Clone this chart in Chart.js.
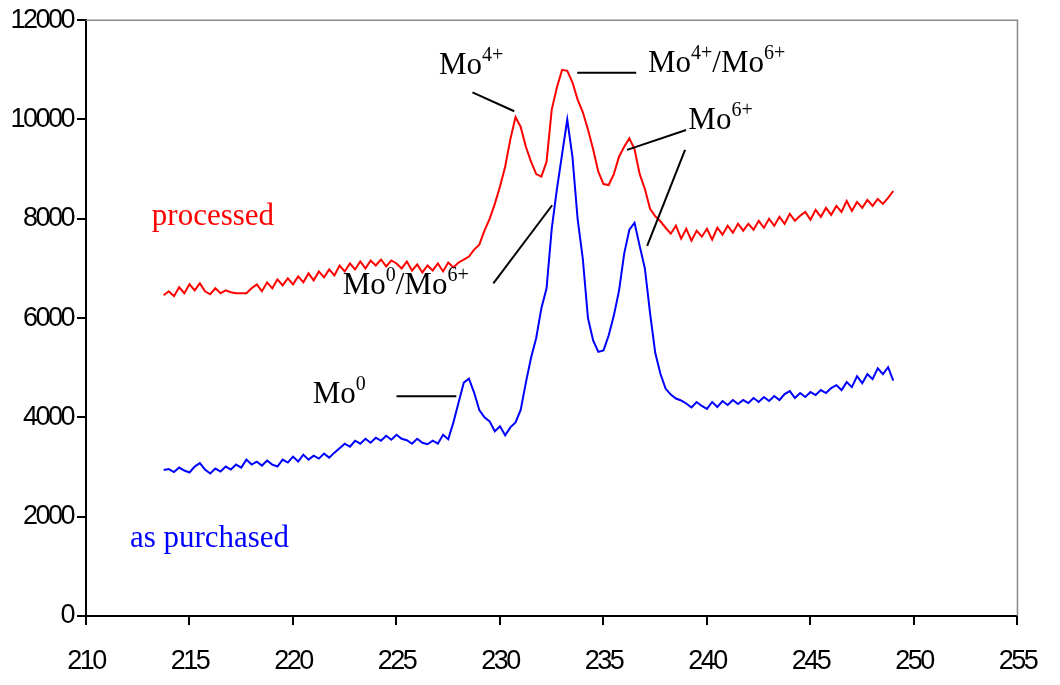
<!DOCTYPE html>
<html>
<head>
<meta charset="utf-8">
<script src="https://cdn.jsdelivr.net/npm/chart.js@4/dist/chart.umd.min.js"></script>
<style>
  html, body { margin: 0; padding: 0; background: #fff; }
  #plot { display: block; }
</style>
</head>
<body>
<canvas id="plot" width="1060" height="685"></canvas>
<script>
// binding energy (eV), one row per eV
var energy = [
    213.75,
    214, 214.25, 214.5, 214.75,
    215, 215.25, 215.5, 215.75,
    216, 216.25, 216.5, 216.75,
    217, 217.25, 217.5, 217.75,
    218, 218.25, 218.5, 218.75,
    219, 219.25, 219.5, 219.75,
    220, 220.25, 220.5, 220.75,
    221, 221.25, 221.5, 221.75,
    222, 222.25, 222.5, 222.75,
    223, 223.25, 223.5, 223.75,
    224, 224.25, 224.5, 224.75,
    225, 225.25, 225.5, 225.75,
    226, 226.25, 226.5, 226.75,
    227, 227.25, 227.5, 227.75,
    228, 228.25, 228.5, 228.75,
    229, 229.25, 229.5, 229.75,
    230, 230.25, 230.5, 230.75,
    231, 231.25, 231.5, 231.75,
    232, 232.25, 232.5, 232.75,
    233, 233.25, 233.5, 233.75,
    234, 234.25, 234.5, 234.75,
    235, 235.25, 235.5, 235.75,
    236, 236.25, 236.5, 236.75,
    237, 237.25, 237.5, 237.75,
    238, 238.25, 238.5, 238.75,
    239, 239.25, 239.5, 239.75,
    240, 240.25, 240.5, 240.75,
    241, 241.25, 241.5, 241.75,
    242, 242.25, 242.5, 242.75,
    243, 243.25, 243.5, 243.75,
    244, 244.25, 244.5, 244.75,
    245, 245.25, 245.5, 245.75,
    246, 246.25, 246.5, 246.75,
    247, 247.25, 247.5, 247.75,
    248, 248.25, 248.5, 248.75,
    249
];

// counts, processed sample (red)
var processed = [
    6460,
    6540, 6440, 6620, 6500,
    6680, 6560, 6700, 6540,
    6480, 6600, 6500, 6560,
    6520, 6500, 6500, 6500,
    6600, 6680, 6540, 6720,
    6600, 6780, 6660, 6800,
    6680, 6840, 6720, 6900,
    6760, 6940, 6820, 6980,
    6860, 7060, 6940, 7100,
    6980, 7140, 7000, 7160,
    7060, 7180, 7040, 7160,
    7100, 7000, 7140, 6960,
    7080, 6920, 7060, 6960,
    7100, 6940, 7120, 7020,
    7120, 7180, 7240, 7380,
    7480, 7760, 8000, 8300,
    8650, 9050, 9600, 10050,
    9850, 9450, 9150, 8900,
    8850, 9150, 10200, 10650,
    11000, 10980, 10750, 10400,
    10150, 9800, 9400, 8950,
    8700, 8680, 8900, 9250,
    9450, 9620, 9400, 8900,
    8600, 8200, 8050, 7950,
    7820, 7700, 7860, 7600,
    7800, 7560, 7760, 7640,
    7800, 7580, 7820, 7680,
    7860, 7720, 7900, 7760,
    7900, 7780, 7960, 7820,
    8000, 7860, 8040, 7900,
    8100, 7960, 8060, 8140,
    7980, 8180, 8040, 8220,
    8080, 8260, 8140, 8360,
    8160, 8340, 8220, 8380,
    8260, 8400, 8300, 8420,
    8560
];

// counts, as purchased sample (blue)
var purchased = [
    2940,
    2960, 2900, 2990, 2930,
    2890, 3010, 3080, 2950,
    2870, 2970, 2910, 3010,
    2950, 3050, 2990, 3150,
    3050, 3110, 3030, 3130,
    3050, 3010, 3150, 3090,
    3210, 3110, 3250, 3150,
    3230, 3170, 3270, 3190,
    3290, 3380, 3470, 3410,
    3530, 3470, 3570, 3490,
    3590, 3530, 3630, 3550,
    3650, 3570, 3540, 3470,
    3570, 3490, 3460, 3530,
    3470, 3650, 3560, 3900,
    4300, 4700, 4780, 4500,
    4150, 4000, 3920, 3720,
    3820, 3640, 3800, 3900,
    4150, 4700, 5200, 5600,
    6200, 6600, 7800, 8600,
    9300, 10000, 9250, 8000,
    7200, 6000, 5550, 5320,
    5350, 5650, 6050, 6550,
    7300, 7780, 7920, 7450,
    7000, 6100, 5300, 4880,
    4580, 4460, 4380, 4340,
    4280, 4200, 4310, 4230,
    4170, 4310, 4210, 4330,
    4250, 4350, 4270, 4350,
    4290, 4390, 4310, 4410,
    4330, 4430, 4350, 4470,
    4530, 4390, 4490, 4410,
    4510, 4450, 4550, 4490,
    4590, 4650, 4550, 4710,
    4610, 4830, 4690, 4870,
    4770, 4990, 4870, 5010,
    4740
];

var xTicks = [210, 215, 220, 225, 230, 235, 240, 245, 250, 255];
var yTicks = [0, 2000, 4000, 6000, 8000, 10000, 12000];

function pts(vals) {
    return energy.map(function (e, i) { return { x: e, y: vals[i] }; });
}

// peak labels: text parts [string, superscript?], anchor in data units
var peakLabels = [
    { parts: [['Mo', 0], ['4+', 1]], at: [227.05, 10920] },
    { parts: [['Mo', 0], ['4+', 1], ['/Mo', 0], ['6+', 1]], at: [237.15, 10960] },
    { parts: [['Mo', 0], ['6+', 1]], at: [239.1, 9800] },
    { parts: [['Mo', 0], ['0', 1], ['/Mo', 0], ['6+', 1]], at: [222.4, 6480] },
    { parts: [['Mo', 0], ['0', 1]], at: [220.95, 4300] }
];
var leaders = [
    [228.67, 10545, 230.69, 10166],
    [233.73, 10944, 236.58, 10944],
    [238.99, 9788, 236.14, 9389],
    [238.94, 9389, 237.11, 7455],
    [229.68, 6698, 232.52, 8273],
    [225.0, 4425, 227.89, 4425]
];
var seriesNames = [
    { text: 'processed', color: '#ff0000', at: [213.18, 7874] },
    { text: 'as purchased', color: '#0000ff', at: [212.12, 1395] }
];

var notes = {
    id: 'notes',
    beforeDraw: function (chart) {
        chart.ctx.letterSpacing = '-2.5px';
    },
    afterDraw: function (chart) {
        var ctx = chart.ctx, xs = chart.scales.x, ys = chart.scales.y, a = chart.chartArea;
        ctx.save();
        ctx.letterSpacing = '0px';

        // grey frame on top and right
        ctx.strokeStyle = '#888';
        ctx.lineWidth = 1.5;
        ctx.beginPath();
        ctx.moveTo(a.left, a.top);
        ctx.lineTo(a.right, a.top);
        ctx.lineTo(a.right, a.bottom);
        ctx.stroke();

        ctx.strokeStyle = '#000';
        ctx.lineWidth = 2;
        leaders.forEach(function (l) {
            ctx.beginPath();
            ctx.moveTo(xs.getPixelForValue(l[0]), ys.getPixelForValue(l[1]));
            ctx.lineTo(xs.getPixelForValue(l[2]), ys.getPixelForValue(l[3]));
            ctx.stroke();
        });

        ctx.textBaseline = 'alphabetic';
        ctx.textAlign = 'left';
        ctx.fillStyle = '#000';
        peakLabels.forEach(function (p) {
            var x = xs.getPixelForValue(p.at[0]), y = ys.getPixelForValue(p.at[1]);
            p.parts.forEach(function (part) {
                ctx.font = part[1] ? '20px "Liberation Serif"' : '31px "Liberation Serif"';
                ctx.fillText(part[0], x, part[1] ? y - 13 : y);
                x += ctx.measureText(part[0]).width;
            });
        });

        ctx.font = '31px "Liberation Serif"';
        seriesNames.forEach(function (s) {
            ctx.fillStyle = s.color;
            ctx.fillText(s.text, xs.getPixelForValue(s.at[0]), ys.getPixelForValue(s.at[1]));
        });
        ctx.restore();
    }
};

var tickFont = { family: '"Liberation Sans", Arial, sans-serif', size: 27 };

new Chart(document.getElementById('plot'), {
    type: 'line',
    data: {
        datasets: [
            { label: 'processed', data: pts(processed), borderColor: '#ff0000', borderWidth: 2, pointRadius: 0, tension: 0 },
            { label: 'as purchased', data: pts(purchased), borderColor: '#0000ff', borderWidth: 2, pointRadius: 0, tension: 0 }
        ]
    },
    options: {
        responsive: false,
        animation: false,
        events: [],
        layout: { padding: { left: 0, right: 41, top: 14, bottom: 0 } },
        plugins: { legend: { display: false }, tooltip: { enabled: false } },
        scales: {
            x: {
                type: 'linear',
                min: 210, max: 255,
                afterBuildTicks: function (s) { s.ticks = xTicks.map(function (v) { return { value: v }; }); },
                afterFit: function (s) { s.height = 69; },
                grid: { drawOnChartArea: false, drawTicks: true, tickLength: 9, color: '#000', lineWidth: 2 },
                border: { color: '#000', width: 2 },
                ticks: { color: '#000', font: tickFont, padding: 20, maxRotation: 0, autoSkip: false }
            },
            y: {
                min: 0, max: 12000,
                afterBuildTicks: function (s) { s.ticks = yTicks.map(function (v) { return { value: v }; }); },
                afterFit: function (s) { s.width = 86; },
                grid: { drawOnChartArea: false, drawTicks: true, tickLength: 9, color: '#000', lineWidth: 2 },
                border: { color: '#000', width: 2 },
                ticks: { color: '#000', font: tickFont, padding: 4, autoSkip: false, callback: function (v) { return String(v); } }
            }
        }
    },
    plugins: [notes]
});
</script>
</body>
</html>
